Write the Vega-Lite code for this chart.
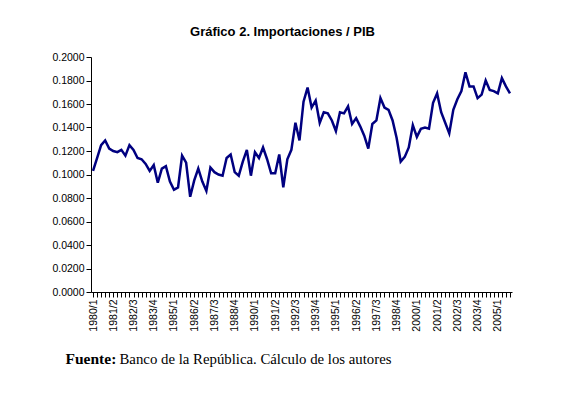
{
  "$schema": "https://vega.github.io/schema/vega-lite/v6.json",
  "width": 421,
  "height": 235,
  "autosize": "none",
  "padding": {"left": 91, "top": 57, "right": 51, "bottom": 103},
  "background": "white",
  "title": {"text": "Gráfico 2. Importaciones / PIB", "font": "Liberation Sans", "fontSize": 13, "fontWeight": "bold", "color": "black", "anchor": "middle", "dx": -19, "offset": 13},
  "data": {"values": [
    {"q": "1980/1", "v": 0.103}, {"q": "1980/2", "v": 0.114}, {"q": "1980/3", "v": 0.125}, {"q": "1980/4", "v": 0.129},
    {"q": "1981/1", "v": 0.122}, {"q": "1981/2", "v": 0.120}, {"q": "1981/3", "v": 0.119}, {"q": "1981/4", "v": 0.121},
    {"q": "1982/1", "v": 0.116}, {"q": "1982/2", "v": 0.125}, {"q": "1982/3", "v": 0.121}, {"q": "1982/4", "v": 0.114},
    {"q": "1983/1", "v": 0.113}, {"q": "1983/2", "v": 0.109}, {"q": "1983/3", "v": 0.103}, {"q": "1983/4", "v": 0.108},
    {"q": "1984/1", "v": 0.093}, {"q": "1984/2", "v": 0.105}, {"q": "1984/3", "v": 0.107}, {"q": "1984/4", "v": 0.094},
    {"q": "1985/1", "v": 0.087}, {"q": "1985/2", "v": 0.089}, {"q": "1985/3", "v": 0.116}, {"q": "1985/4", "v": 0.110},
    {"q": "1986/1", "v": 0.081}, {"q": "1986/2", "v": 0.095}, {"q": "1986/3", "v": 0.105}, {"q": "1986/4", "v": 0.094},
    {"q": "1987/1", "v": 0.086}, {"q": "1987/2", "v": 0.106}, {"q": "1987/3", "v": 0.102}, {"q": "1987/4", "v": 0.100},
    {"q": "1988/1", "v": 0.099}, {"q": "1988/2", "v": 0.114}, {"q": "1988/3", "v": 0.117}, {"q": "1988/4", "v": 0.102},
    {"q": "1989/1", "v": 0.099}, {"q": "1989/2", "v": 0.111}, {"q": "1989/3", "v": 0.121}, {"q": "1989/4", "v": 0.099},
    {"q": "1990/1", "v": 0.119}, {"q": "1990/2", "v": 0.114}, {"q": "1990/3", "v": 0.123}, {"q": "1990/4", "v": 0.113},
    {"q": "1991/1", "v": 0.101}, {"q": "1991/2", "v": 0.101}, {"q": "1991/3", "v": 0.117}, {"q": "1991/4", "v": 0.089},
    {"q": "1992/1", "v": 0.113}, {"q": "1992/2", "v": 0.121}, {"q": "1992/3", "v": 0.144}, {"q": "1992/4", "v": 0.129},
    {"q": "1993/1", "v": 0.162}, {"q": "1993/2", "v": 0.174}, {"q": "1993/3", "v": 0.157}, {"q": "1993/4", "v": 0.163},
    {"q": "1994/1", "v": 0.144}, {"q": "1994/2", "v": 0.153}, {"q": "1994/3", "v": 0.152}, {"q": "1994/4", "v": 0.146},
    {"q": "1995/1", "v": 0.137}, {"q": "1995/2", "v": 0.153}, {"q": "1995/3", "v": 0.152}, {"q": "1995/4", "v": 0.158},
    {"q": "1996/1", "v": 0.143}, {"q": "1996/2", "v": 0.148}, {"q": "1996/3", "v": 0.141}, {"q": "1996/4", "v": 0.133},
    {"q": "1997/1", "v": 0.122}, {"q": "1997/2", "v": 0.143}, {"q": "1997/3", "v": 0.146}, {"q": "1997/4", "v": 0.165},
    {"q": "1998/1", "v": 0.157}, {"q": "1998/2", "v": 0.155}, {"q": "1998/3", "v": 0.146}, {"q": "1998/4", "v": 0.131},
    {"q": "1999/1", "v": 0.111}, {"q": "1999/2", "v": 0.115}, {"q": "1999/3", "v": 0.123}, {"q": "1999/4", "v": 0.142},
    {"q": "2000/1", "v": 0.132}, {"q": "2000/2", "v": 0.139}, {"q": "2000/3", "v": 0.140}, {"q": "2000/4", "v": 0.139},
    {"q": "2001/1", "v": 0.161}, {"q": "2001/2", "v": 0.169}, {"q": "2001/3", "v": 0.153}, {"q": "2001/4", "v": 0.144},
    {"q": "2002/1", "v": 0.135}, {"q": "2002/2", "v": 0.155}, {"q": "2002/3", "v": 0.164}, {"q": "2002/4", "v": 0.171},
    {"q": "2003/1", "v": 0.187}, {"q": "2003/2", "v": 0.175}, {"q": "2003/3", "v": 0.175}, {"q": "2003/4", "v": 0.165},
    {"q": "2004/1", "v": 0.168}, {"q": "2004/2", "v": 0.180}, {"q": "2004/3", "v": 0.172}, {"q": "2004/4", "v": 0.171},
    {"q": "2005/1", "v": 0.169}, {"q": "2005/2", "v": 0.182}, {"q": "2005/3", "v": 0.175}, {"q": "2005/4", "v": 0.169}
  ]},
  "mark": {"type": "line", "color": "#000080", "strokeWidth": 2.5},
  "encoding": {
    "x": {
      "field": "q", "type": "ordinal", "sort": null,
      "scale": {"type": "point", "padding": 0.5},
      "axis": {
        "grid": false, "domainColor": "black", "tickColor": "black", "tickSize": 5,
        "labelAngle": -90, "labelAlign": "right", "labelBaseline": "middle",
        "labelFont": "Liberation Sans", "labelFontSize": 10.5, "labelColor": "black", "labelPadding": 2,
        "labelOverlap": false,
        "labelExpr": "((toNumber(slice(datum.value,0,4))-1980)*4 + toNumber(slice(datum.value,5)) - 1) % 5 == 0 ? datum.value : ''",
        "title": "Banco de la República. Cálculo de los autores",
        "titleFont": "Liberation Serif", "titleFontSize": 14.8, "titleFontWeight": "normal", "titleColor": "black",
        "titleAlign": "left", "titleBaseline": "alphabetic", "titleX": 28, "titleY": 71
      }
    },
    "y": {
      "field": "v", "type": "quantitative",
      "scale": {"domain": [0, 0.2]},
      "axis": {
        "values": [0, 0.02, 0.04, 0.06, 0.08, 0.1, 0.12, 0.14, 0.16, 0.18, 0.2],
        "format": ".4f", "grid": false, "domainColor": "black", "tickColor": "black", "tickSize": 5,
        "labelFont": "Liberation Sans", "labelFontSize": 10.5, "labelColor": "black", "labelPadding": 2,
        "title": "Fuente:",
        "titleFont": "Liberation Serif", "titleFontSize": 15.5, "titleFontWeight": "bold", "titleColor": "black",
        "titleAngle": 0, "titleAlign": "left", "titleBaseline": "alphabetic", "titleX": -26, "titleY": 306
      }
    }
  },
  "config": {"view": {"stroke": null}}
}
